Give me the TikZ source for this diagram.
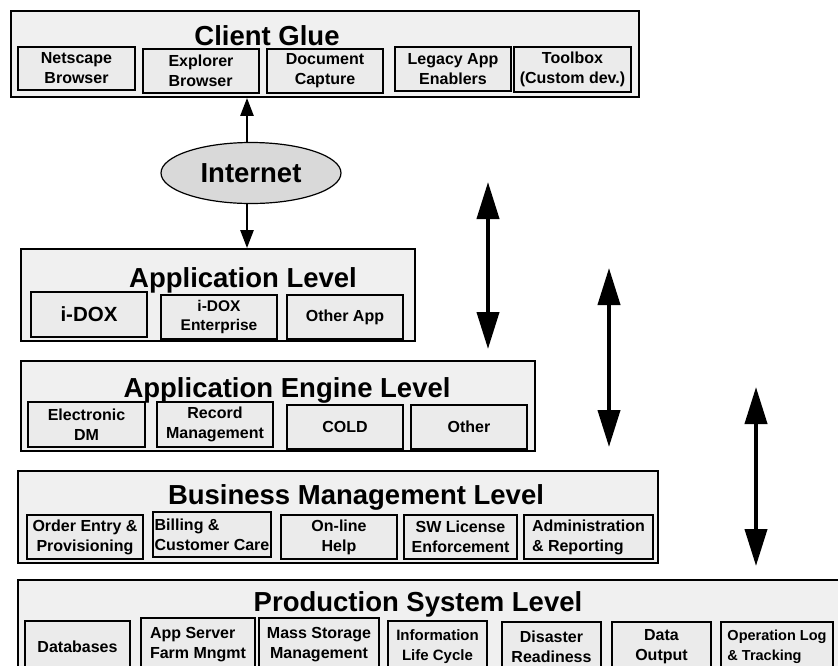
\documentclass[tikz,border=0pt]{standalone}
\usepackage{fontspec}
\setmainfont{Liberation Sans}
\usetikzlibrary{shapes.geometric,arrows.meta}
\definecolor{outerfill}{HTML}{F0F0F0}
\definecolor{subfill}{HTML}{EBEBEB}
\definecolor{ellfill}{HTML}{D9D9D9}
\tikzset{
  level/.style={draw, line width=1.8pt, fill=outerfill, inner sep=0pt},
  title/.style={anchor=base, inner sep=0pt, font=\bfseries\fontsize{27.5}{30}\selectfont},
  sub/.style={draw, line width=1.6pt, fill=subfill, inner sep=0pt, align=center,
    font=\bfseries\fontsize{16}{20}\selectfont},
  subl/.style={sub, align=left},
  iarrow/.style={line width=2.5pt, -{Triangle[width=13pt,length=18pt]}},
  barrow/.style={line width=4pt, {Triangle[width=22pt,length=37pt]}-{Triangle[width=22pt,length=37pt]}},
}
\begin{document}
\begin{tikzpicture}[x=1pt,y=-1pt]
\useasboundingbox (0,0) rectangle (838,665);
\clip (0,0) rectangle (838,665);

% Client Glue
\node[level, minimum width=628, minimum height=86] (cg) at (325,54) {};
\node[title] (cgt) at (267,45) {Client Glue};
\node[sub, minimum width=117, minimum height=43] (ns) at (76.5,68.5) {Netscape\\Browser};
\node[subl, minimum width=116, minimum height=44] (ex) at (201,71) {Explorer\\Browser};
\node[sub, minimum width=116, minimum height=44] (dc) at (325,71) {Document\\Capture};
\node[sub, minimum width=116, minimum height=44] (lg) at (453,69) {Legacy App\\Enablers};
\node[sub, minimum width=117, minimum height=45] (tb) at (572.5,69.5) {Toolbox\\(Custom dev.)};

% Internet
\node[ellipse, draw, line width=1.2pt, fill=ellfill, minimum width=180, minimum height=61, inner sep=0pt,
  font=\bfseries\fontsize{27.5}{30}\selectfont] (int) at (251,173) {Internet};

% Application Level
\node[level, minimum width=394, minimum height=92] (al) at (218,295) {};
\node[title] (alt) at (243,287) {Application Level};
\node[sub, minimum width=116, minimum height=45, font=\bfseries\fontsize{20.5}{24}\selectfont] (idox) at (89,314.5) {i-DOX};
\node[sub, minimum width=116, minimum height=44, font=\bfseries\fontsize{15.5}{19}\selectfont] (idoxe) at (219,317) {i-DOX\\Enterprise};
\node[sub, minimum width=116, minimum height=44] (oapp) at (345,317) {Other App};

% Application Engine Level
\node[level, minimum width=514, minimum height=90] (ae) at (278,406) {};
\node[title] (aet) at (287,397) {Application Engine Level};
\node[sub, minimum width=117, minimum height=45] (edm) at (86.5,424.5) {Electronic\\DM};
\node[sub, minimum width=116, minimum height=45] (rec) at (215,424.5) {Record\\Management};
\node[sub, minimum width=116, minimum height=44] (cold) at (345,427) {COLD};
\node[sub, minimum width=116, minimum height=44] (oth) at (469,427) {Other};

% Business Management Level
\node[level, minimum width=640, minimum height=92] (bm) at (338,517) {};
\node[title] (bmt) at (356,504) {Business Management Level};
\node[sub, minimum width=116, minimum height=44] (oe) at (85,537) {Order Entry \&\\Provisioning};
\node[subl, minimum width=118, minimum height=45] (bil) at (212,534.5) {Billing \&\\Customer Care};
\node[sub, minimum width=116, minimum height=44] (olh) at (339,537) {On-line\\Help};
\node[sub, minimum width=113, minimum height=44] (sw) at (460.5,537) {SW License\\Enforcement};
\node[subl, minimum width=129, minimum height=44] (adm) at (588.5,537) {Administration\\\& Reporting};

% Production System Level
\node[level, minimum width=832, minimum height=140] (ps) at (434,650) {};
\node[title] (pst) at (418,611) {Production System Level};
\node[sub, minimum width=105, minimum height=51] (db) at (77.5,646.5) {Databases};
\node[subl, minimum width=114, minimum height=54] (as) at (198,645) {App Server\\Farm Mngmt};
\node[sub, minimum width=120, minimum height=54] (ms) at (319,645) {Mass Storage\\Management};
\node[sub, minimum width=99, minimum height=51, font=\bfseries\fontsize{15}{20}\selectfont] (il) at (437.5,646.5) {Information\\Life Cycle};
\node[sub, minimum width=99, minimum height=50] (ds) at (551.5,647) {Disaster\\Readiness};
\node[sub, minimum width=99, minimum height=50] (dout) at (661.5,647) {Data\\Output};
\node[subl, minimum width=112, minimum height=50, font=\bfseries\fontsize{14.5}{20}\selectfont] (ol) at (777,647) {Operation Log\\\& Tracking};

% Internet arrows
\coordinate (ia) at (247,0);
\draw[iarrow] (ia |- int.north) -- (ia |- cg.south);
\draw[iarrow] (ia |- int.south) -- (ia |- al.north);

% right-side double arrows
\coordinate (r1a) at (488,182);
\coordinate (r1b) at (488,349);
\coordinate (r2a) at (609,268);
\coordinate (r2b) at (609,447);
\coordinate (r3a) at (756,387);
\coordinate (r3b) at (756,566);
\draw[barrow] (r1a) -- (r1b);
\draw[barrow] (r2a) -- (r2b);
\draw[barrow] (r3a) -- (r3b);
\end{tikzpicture}
\end{document}
